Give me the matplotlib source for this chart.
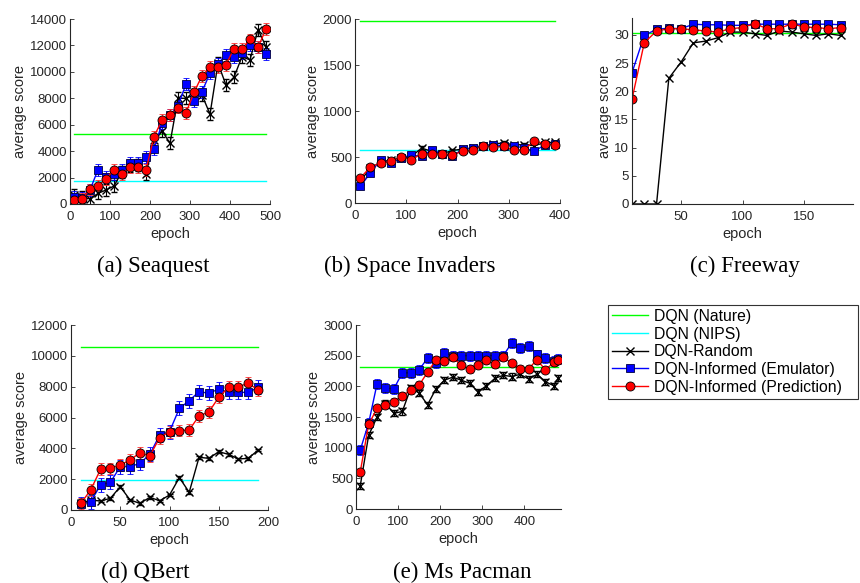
import numpy as np
import matplotlib
matplotlib.use('Agg')
import matplotlib.pyplot as plt
from matplotlib.lines import Line2D

plt.rcParams['font.family'] = ['Liberation Sans', 'DejaVu Sans']

# ---- data ----
sea_x = list(range(10, 500, 20))
sea_pred = [300, 400, 1100, 1400, 1900, 2600, 2300, 2800, 2800, 2600, 5100, 6350, 6750,
            7300, 6900, 8450, 9700, 10350, 10350, 10550, 11750, 11750, 12450, 11850, 13250]
sea_emu = [550, 430, 1060, 2600, 2050, 2300, 2550, 3100, 3100, 3550, 4150, 6100, 6750,
           7400, 9100, 7800, 8500, 9900, 10600, 11300, 11150, 11400, 12050, 11900, 11350]
sea_rand = [680, 550, 380, 800, 1060, 1360, 2450, 2900, 2950, 2300, 4850, 5550, 4600,
            8000, 8000, 8250, 8250, 6800, 10650, 9000, 9600, 11150, 10900, 13200, 11900]
sea_nature = 5286
sea_nips = 1705

si_x = list(range(10, 400, 20))
si_pred = [270, 390, 434, 452, 500, 470, 535, 535, 535, 525, 560, 571, 622, 608, 615,
           571, 579, 676, 644, 626]
si_emu = [180, 325, 470, 434, 488, 524, 506, 579, 535, 506, 586, 597, 615, 633, 622,
          622, 597, 560, 633, 644]
si_rand = [235, 380, 441, 470, 488, 506, 597, 560, 535, 571, 586, 597, 615, 644, 651,
           633, 633, 622, 658, 658]
si_nature = 1976
si_nips = 581

fw_x = list(range(10, 190, 10))
fw_pred = [18.6, 28.6, 30.7, 31.1, 31.1, 30.9, 30.7, 30.5, 31.1, 31.3, 32.0, 31.1, 31.1,
           32.0, 31.4, 31.3, 31.1, 31.3]
fw_emu = [23.3, 29.9, 31.0, 31.2, 31.1, 31.9, 31.8, 31.8, 31.7, 31.7, 31.9, 31.9, 31.9,
          31.9, 31.9, 31.9, 31.9, 31.8]
fw_rand = [0, 0, 0, 22.3, 25.2, 28.6, 28.9, 29.5, 30.5, 30.5, 30.2, 29.9, 30.7, 30.5,
           30.2, 29.9, 30.2, 29.9]
fw_nature = 30.3

qb_x = list(range(10, 200, 10))
qb_pred = [430, 1300, 2640, 2700, 2920, 3240, 3720, 3500, 4690, 5080, 5150, 5190, 6100,
           6360, 7310, 7960, 8000, 8220, 7780]
qb_emu = [370, 540, 1620, 1800, 2810, 2810, 3030, 3610, 4860, 5080, 6590, 7090, 7680,
          7570, 7850, 7630, 7630, 7630, 7960]
qb_rand = [430, 650, 580, 760, 1510, 650, 430, 820, 600, 970, 2100, 1150, 3420, 3350,
           3780, 3610, 3310, 3350, 3890]
qb_nature = 10596
qb_nips = 1952

mp_x = list(range(10, 480, 20)) + [480]
mp_pred = [600, 1380, 1640, 1700, 1750, 1840, 1940, 2020, 2230, 2430, 2420, 2480, 2340,
           2280, 2350, 2430, 2360, 2480, 2375, 2290, 2290, 2430, 2270, 2390, 2430]
mp_emu = [960, 1400, 2040, 1970, 1960, 2220, 2220, 2270, 2460, 2375, 2550, 2495, 2500,
          2500, 2500, 2500, 2500, 2500, 2710, 2620, 2660, 2520, 2460, 2410, 2445]
mp_rand = [375, 1200, 1500, 1720, 1560, 1590, 1970, 1890, 1700, 1960, 2100, 2150, 2100,
           2050, 1910, 2010, 2130, 2180, 2160, 2195, 2120, 2195, 2075, 2010, 2130]
mp_nature = 2311

# rough error bar half-widths per game (pred, emu, rand)
sea_err = [450, 450, 450]
si_err = [20, 20, 20]
qb_err = [380, 450, 80]
mp_err = [60, 80, 50]

W, H = 860, 583
fig = plt.figure(figsize=(W / 100, H / 100), dpi=100)

AX_COL = '#262626'


def make_ax(l, t, r, b):
    ax = fig.add_axes([l / W, 1 - b / H, (r - l) / W, (b - t) / H])
    for s in ['top', 'right']:
        ax.spines[s].set_visible(False)
    for s in ['left', 'bottom']:
        ax.spines[s].set_color(AX_COL)
        ax.spines[s].set_linewidth(0.8)
    ax.tick_params(direction='in', length=3, width=0.6, colors=AX_COL,
                   labelsize=9.5, pad=2)
    ax.tick_params(axis='x', pad=5)
    ax.set_xlabel('epoch', fontsize=10.5, color=AX_COL, labelpad=3)
    ax.set_ylabel('average score', fontsize=10.5, color=AX_COL, labelpad=2)
    return ax


def draw(ax, x, pred, emu, rand, nature, nips, err):
    ax.plot([x[0], x[-1]], [nature, nature], color='#00ff00', lw=1.0)
    if nips is not None:
        ax.plot([x[0], x[-1]], [nips, nips], color='#00ffff', lw=1.0)
    e = err if err is not None else [None, None, None]
    ax.errorbar(x, rand, yerr=e[2], color='black', marker='x', ms=6, mew=1.0,
                lw=1.0, capsize=2.5, elinewidth=0.8)
    ax.errorbar(x, emu, yerr=e[1], color='#0000ff', marker='s', ms=5.5,
                mfc='#0000ff', mec='#000040', mew=0.6, lw=1.0, capsize=2.5,
                elinewidth=0.8)
    ax.errorbar(x, pred, yerr=e[0], color='#ff0000', marker='o', ms=6.5,
                mfc='#ff0000', mec='black', mew=0.6, lw=1.0, capsize=2.5,
                elinewidth=0.8, ecolor='#ff3030')


# (a) Seaquest
ax = make_ax(70, 19, 270, 204)
draw(ax, sea_x, sea_pred, sea_emu, sea_rand, sea_nature, sea_nips, sea_err)
ax.set_xlim(0, 500)
ax.set_ylim(0, 14000)
ax.set_xticks(range(0, 501, 100))
ax.set_yticks(range(0, 14001, 2000))

# (b) Space Invaders
ax = make_ax(355, 19, 560, 203)
draw(ax, si_x, si_pred, si_emu, si_rand, si_nature, si_nips, si_err)
ax.set_xlim(0, 400)
ax.set_ylim(0, 2000)
ax.set_xticks(range(0, 401, 100))
ax.set_yticks(range(0, 2001, 500))

# (c) Freeway
ax = make_ax(632, 18, 853, 204)
draw(ax, fw_x, fw_pred, fw_emu, fw_rand, fw_nature, None, None)
ax.set_xlim(10, 190)
ax.set_ylim(0, 33)
ax.set_xticks([50, 100, 150])
ax.set_yticks(range(0, 31, 5))

# (d) QBert
ax = make_ax(71, 325, 268, 510)
draw(ax, qb_x, qb_pred, qb_emu, qb_rand, qb_nature, qb_nips, qb_err)
ax.set_xlim(0, 200)
ax.set_ylim(0, 12000)
ax.set_xticks(range(0, 201, 50))
ax.set_yticks(range(0, 12001, 2000))

# (e) Ms Pacman
ax = make_ax(356, 325, 561, 509)
draw(ax, mp_x, mp_pred, mp_emu, mp_rand, mp_nature, None, mp_err)
ax.set_xlim(0, 487)
ax.set_ylim(0, 3000)
ax.set_xticks(range(0, 401, 100))
ax.set_yticks(range(0, 3001, 500))

# captions
captions = [('(a) Seaquest', 153, 266), ('(b) Space Invaders', 410, 266),
            ('(c) Freeway', 745, 266), ('(d) QBert', 145, 572),
            ('(e) Ms Pacman', 462, 572)]
for txt, cx, cy in captions:
    fig.text(cx / W, 1 - cy / H, txt, ha='center', va='center', fontsize=16.5,
             family=['Liberation Serif', 'DejaVu Serif'])

# legend
handles = [
    Line2D([], [], color='#00ff00', lw=1.0),
    Line2D([], [], color='#00ffff', lw=1.0),
    Line2D([], [], color='black', lw=1.0, marker='x', ms=6),
    Line2D([], [], color='#0000ff', lw=1.0, marker='s', ms=5.5, mfc='#0000ff',
           mec='#000040', mew=0.6),
    Line2D([], [], color='#ff0000', lw=1.0, marker='o', ms=6.5, mfc='#ff0000',
           mec='black', mew=0.6),
]
labels = ['DQN (Nature)', 'DQN (NIPS)', 'DQN-Random', 'DQN-Informed (Emulator)',
          'DQN-Informed (Prediction)']
leg = fig.legend(handles, labels, loc='upper left',
                 bbox_to_anchor=(608 / W, 1 - 397 / H, 250 / W, 92 / H),
                 mode='expand', fontsize=11.3,
                 handlelength=2.3, handletextpad=0.35, labelspacing=0.17,
                 borderpad=0.25, borderaxespad=0, fancybox=False, framealpha=1)
leg.get_frame().set_edgecolor('#333333')
leg.get_frame().set_linewidth(0.8)

fig.savefig('out.png', dpi=100)
